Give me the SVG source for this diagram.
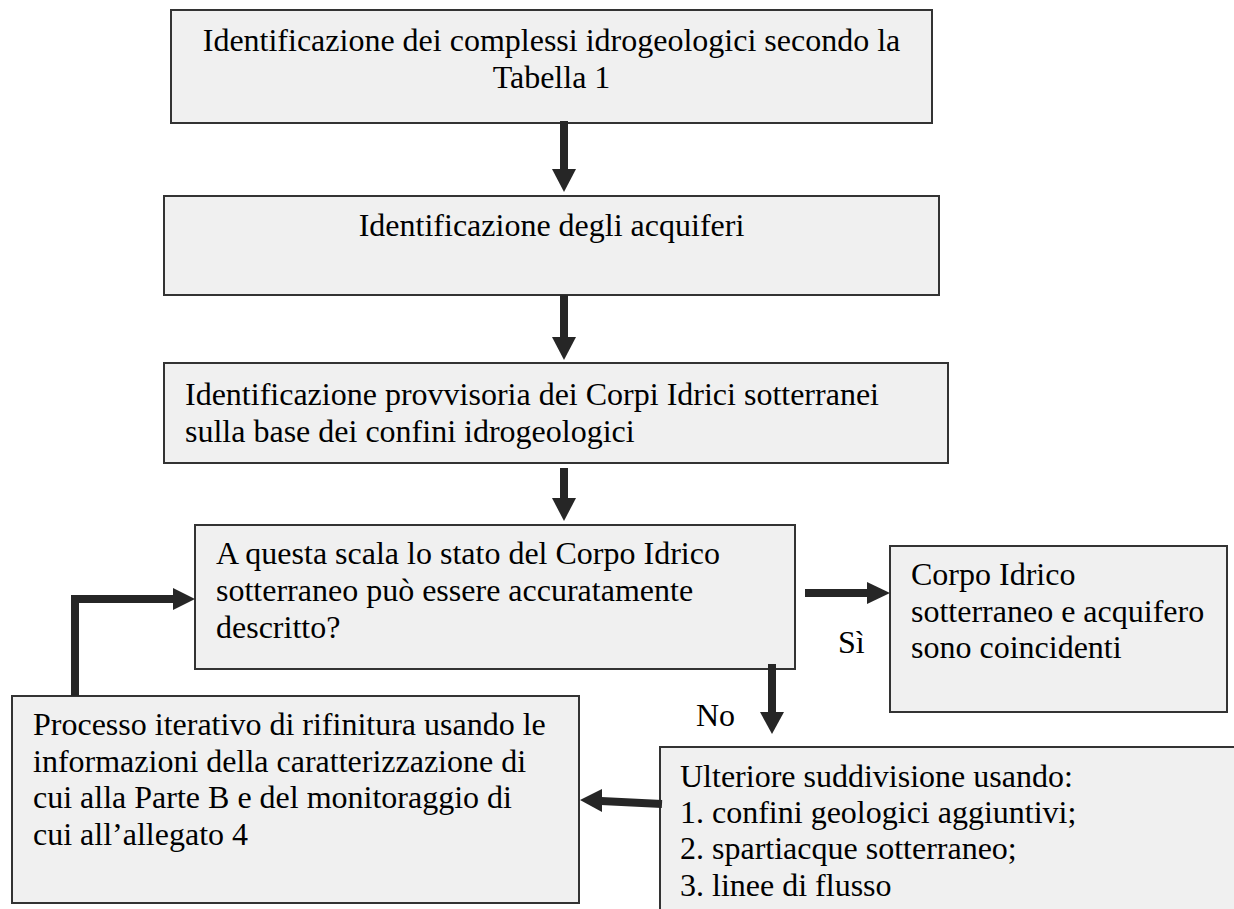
<svg xmlns="http://www.w3.org/2000/svg" width="1234" height="909" viewBox="0 0 1234 909">
<style>
.box{fill:#f0f0f0;stroke:#333333;stroke-width:2}
.t{font-family:'Liberation Serif','DejaVu Serif',serif;font-size:32px;fill:#000000}
.c{text-anchor:middle}
.shaft{stroke:#262626;stroke-width:8;fill:none;stroke-linejoin:miter}
.head{fill:#262626}
</style>
<rect width="1234" height="909" fill="#ffffff"/>
<g id="n1">
<rect class="box" x="171" y="10" width="761" height="113"/>
<text class="t c" x="551.5" y="51">Identificazione dei complessi idrogeologici secondo la</text>
<text class="t c" x="551.5" y="88">Tabella 1</text>
</g>
<g id="n2">
<rect class="box" x="164" y="196" width="775" height="99"/>
<text class="t c" x="551.5" y="236">Identificazione degli acquiferi</text>
</g>
<g id="n3">
<rect class="box" x="164" y="363" width="784" height="100"/>
<text class="t" x="185" y="405">Identificazione provvisoria dei Corpi Idrici sotterranei</text>
<text class="t" x="185" y="442">sulla base dei confini idrogeologici</text>
</g>
<g id="n4">
<rect class="box" x="195" y="525" width="600" height="144"/>
<text class="t" x="216" y="564">A questa scala lo stato del Corpo Idrico</text>
<text class="t" x="216" y="601">sotterraneo può essere accuratamente</text>
<text class="t" x="216" y="638">descritto?</text>
</g>
<g id="n5">
<rect class="box" x="890" y="546" width="337" height="166"/>
<text class="t" x="911" y="585">Corpo Idrico</text>
<text class="t" x="911" y="622">sotterraneo e acquifero</text>
<text class="t" x="911" y="658">sono coincidenti</text>
</g>
<g id="n6">
<rect class="box" x="660" y="747" width="600" height="200"/>
<text class="t" x="680" y="787">Ulteriore suddivisione usando:</text>
<text class="t" x="680" y="823">1. confini geologici aggiuntivi;</text>
<text class="t" x="680" y="859">2. spartiacque sotterraneo;</text>
<text class="t" x="680" y="896">3. linee di flusso</text>
</g>
<g id="n7">
<rect class="box" x="12" y="696" width="567" height="207"/>
<text class="t" x="33" y="735">Processo iterativo di rifinitura usando le</text>
<text class="t" x="33" y="772">informazioni della caratterizzazione di</text>
<text class="t" x="33" y="808">cui alla Parte B e del monitoraggio di</text>
<text class="t" x="33" y="845">cui all’allegato 4</text>
</g>
<g id="connectors">
<line class="shaft" x1="564" y1="121" x2="564" y2="170"/>
<polygon class="head" points="552,169 576,169 564,192"/>
<line class="shaft" x1="564" y1="295" x2="564" y2="338"/>
<polygon class="head" points="552,337 576,337 564,360"/>
<line class="shaft" x1="564" y1="468" x2="564" y2="499"/>
<polygon class="head" points="552,498 576,498 564,521"/>
<line class="shaft" x1="805" y1="593" x2="868" y2="593"/>
<polygon class="head" points="867,582 867,604 890,593"/>
<line class="shaft" x1="772" y1="664" x2="772" y2="713"/>
<polygon class="head" points="760,712 784,712 772,734"/>
<line class="shaft" x1="662" y1="804" x2="601" y2="801"/>
<polygon class="head" points="602,789 602,812 580,800"/>
<polyline class="shaft" points="75,696 75,599 174,599"/>
<polygon class="head" points="173,588 173,610 195,599"/>
<text class="t" x="838" y="653">Sì</text>
<text class="t" x="696" y="726">No</text>
</g>
</svg>
